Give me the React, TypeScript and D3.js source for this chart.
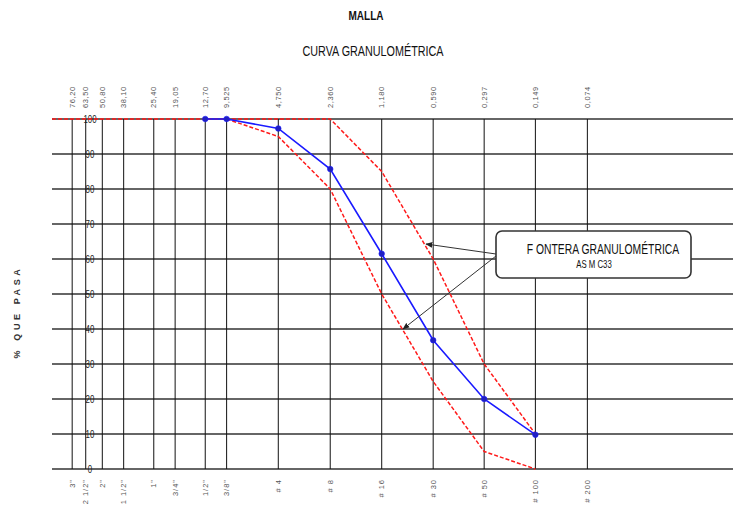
import React from "react";
import * as d3 from "d3";

const W = 733;
const H = 515;

// sieve openings (mm) and names
const SIZES = [76.2, 63.5, 50.8, 38.1, 25.4, 19.05, 12.7, 9.525, 4.75, 2.36, 1.18, 0.59, 0.297, 0.149, 0.074];
const SIZE_LABELS = ["76,20", "63,50", "50,80", "38,10", "25,40", "19,05", "12,70", "9,525", "4,750", "2,360", "1,180", "0,590", "0,297", "0,149", "0,074"];
const SIEVE_NAMES = ['3"', '2 1/2"', '2"', '1 1/2"', '1"', '3/4"', '1/2"', '3/8"', "# 4", "# 8", "# 16", "# 30", "# 50", "# 100", "# 200"];
const Y_TICKS = [0, 10, 20, 30, 40, 50, 60, 70, 80, 90, 100];

// muestra
const SAMPLE_SIZES = [12.7, 9.525, 4.75, 2.36, 1.18, 0.59, 0.297, 0.149];
const SAMPLE_PASS = [100, 100, 97.3, 85.7, 61.5, 36.8, 20, 9.8];

// limites ASTM C33
const UPPER_SIZES = [100, 2.36, 1.18, 0.59, 0.297, 0.149];
const UPPER_PASS = [100, 100, 85, 60, 30, 10];
const LOWER_SIZES = [9.525, 4.75, 2.36, 1.18, 0.59, 0.297, 0.149];
const LOWER_PASS = [100, 95, 80, 50, 25, 5, 0];

const sans = "'Liberation Sans', Arial, sans-serif";

// poor man's "Arial Narrow": squeeze text horizontally
function NarrowText({ x, y, sx, size, weight, fill, children }: any) {
  return (
    <text
      transform={`translate(${x},${y}) scale(${sx},1)`}
      textAnchor="middle"
      fontFamily={sans}
      fontSize={size}
      fontWeight={weight || "normal"}
      fill={fill || "#111"}
    >
      {children}
    </text>
  );
}

export default function App() {
  const x = d3.scaleLog().domain([100, 0.01]).range([52, 736]);
  const y = d3.scaleLinear().domain([0, 100]).range([469, 119]);

  const line = d3
    .line<[number, number]>()
    .x((d) => x(d[0]))
    .y((d) => y(d[1]));

  const sample = SAMPLE_SIZES.map((s, i) => [s, SAMPLE_PASS[i]] as [number, number]);
  const upper = UPPER_SIZES.map((s, i) => [s, UPPER_PASS[i]] as [number, number]);
  const lower = LOWER_SIZES.map((s, i) => [s, LOWER_PASS[i]] as [number, number]);

  return (
    <svg
      width={W}
      height={H}
      style={{ position: "absolute", left: 0, top: 0, background: "#fff" }}
    >
      <defs>
        <marker id="arr" viewBox="0 0 10 10" refX="9" refY="5" markerWidth="7" markerHeight="7" orient="auto-start-reverse">
          <path d="M0,1 L10,5 L0,9 z" fill="#222" />
        </marker>
      </defs>

      <NarrowText x={366} y={20} sx={0.8} size={12.5} weight="bold">
        MALLA
      </NarrowText>
      <NarrowText x={373} y={56} sx={0.72} size={15}>
        CURVA GRANULOMÉTRICA
      </NarrowText>

      {/* horizontal grid */}
      {Y_TICKS.map((t) => (
        <line key={"h" + t} x1={52} x2={W} y1={y(t)} y2={y(t)} stroke="#333" strokeWidth={1.6} />
      ))}
      {/* vertical grid */}
      {SIZES.map((s) => (
        <line key={"v" + s} x1={x(s)} x2={x(s)} y1={y(100)} y2={y(0)} stroke="#111" strokeWidth={1} />
      ))}

      {/* y labels */}
      {Y_TICKS.map((t) => (
        <NarrowText key={"yl" + t} x={90} y={y(t) + 3.5} sx={0.75} size={10.5} fill="#222">
          {t}
        </NarrowText>
      ))}

      {/* top labels */}
      {SIZES.map((s, i) => (
        <text
          key={"tl" + s}
          transform={`translate(${x(s) + 2.5},108) rotate(-90)`}
          textAnchor="start"
          fontFamily={sans}
          fontSize={7.5}
          fill="#555"
          letterSpacing={0.6}
        >
          {SIZE_LABELS[i]}
        </text>
      ))}

      {/* bottom labels */}
      {SIZES.map((s, i) => (
        <text
          key={"bl" + s}
          transform={`translate(${x(s) + 2.5},479) rotate(-90)`}
          textAnchor="end"
          fontFamily={sans}
          fontSize={7.5}
          fill="#555"
          letterSpacing={1}
        >
          {SIEVE_NAMES[i]}
        </text>
      ))}

      <text
        transform="translate(20,312) rotate(-90)"
        textAnchor="middle"
        fontFamily={sans}
        fontWeight="bold"
        fontSize={9}
        letterSpacing={3.6}
        fill="#333"
      >
        % QUE PASA
      </text>

      {/* limits */}
      <path d={line(upper) || ""} fill="none" stroke="#ff1a1a" strokeWidth={1.5} strokeDasharray="4,2" />
      <path d={line(lower) || ""} fill="none" stroke="#ff1a1a" strokeWidth={1.5} strokeDasharray="4,2" />

      {/* sample */}
      <path d={line(sample) || ""} fill="none" stroke="#1a1aff" strokeWidth={1.6} />
      {sample.map((d, i) => (
        <circle key={"p" + i} cx={x(d[0])} cy={y(d[1])} r={2.8} fill="#2020c0" stroke="#1a1aff" strokeWidth={0.6} />
      ))}

      {/* callout */}
      <line x1={496} y1={254} x2={426} y2={244} stroke="#333" strokeWidth={1} markerEnd="url(#arr)" />
      <line x1={496} y1={256} x2={403} y2={329} stroke="#333" strokeWidth={1} markerEnd="url(#arr)" />
      <rect x={496} y={231} width={195} height={47} rx={6} fill="#fff" stroke="#333" strokeWidth={1.6} />
      <NarrowText x={603} y={254} sx={0.74} size={14} weight={500}>
        F ONTERA GRANULOMÉTRICA
      </NarrowText>
      <NarrowText x={594} y={268} sx={0.78} size={10}>
        AS M C33
      </NarrowText>
    </svg>
  );
}
